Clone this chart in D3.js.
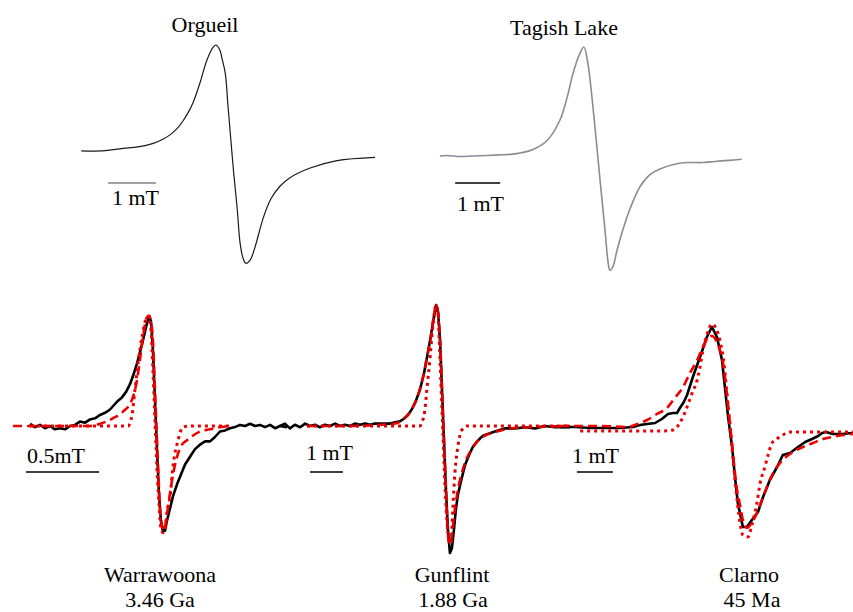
<!DOCTYPE html>
<html><head><meta charset="utf-8">
<script src="https://cdn.jsdelivr.net/npm/d3@7"></script>
<style>html,body{margin:0;padding:0;background:#fff;}svg{display:block;}</style>
</head><body>
<svg id="chart" width="853" height="612"></svg>
<script>
// ---- Data: field offset (mT) vs normalized derivative EPR amplitude ----
const orgueil = [[-3.10,0.01],[-2.71,0.01],[-2.29,0.03],[-1.88,0.05],[-1.60,0.08],[-1.40,0.12],[-1.25,0.16],[-1.10,0.22],[-0.98,0.29],[-0.87,0.37],[-0.77,0.46],[-0.63,0.64],[-0.48,0.86],[-0.35,0.98],[-0.29,1.00],[-0.21,0.95],[-0.17,0.88],[-0.10,0.74],[-0.04,0.42],[0.02,0.10],[0.08,-0.21],[0.15,-0.53],[0.21,-0.85],[0.27,-0.99],[0.33,-1.04],[0.42,-1.01],[0.52,-0.89],[0.69,-0.62],[0.85,-0.44],[1.04,-0.32],[1.25,-0.24],[1.67,-0.15],[2.23,-0.08],[3.02,-0.05]];

const tagishLake = [[-3.47,0.00],[-3.30,0.005],[-3.02,-0.005],[-2.75,0.00],[-2.42,0.005],[-2.15,0.01],[-1.91,0.015],[-1.65,0.03],[-1.40,0.06],[-1.09,0.14],[-0.80,0.33],[-0.64,0.54],[-0.51,0.76],[-0.36,0.94],[-0.27,1.00],[-0.18,0.85],[-0.09,0.54],[0.02,0.08],[0.09,-0.22],[0.20,-0.68],[0.27,-0.98],[0.31,-1.05],[0.38,-1.01],[0.47,-0.86],[0.58,-0.70],[0.76,-0.48],[0.98,-0.28],[1.20,-0.17],[1.42,-0.12],[1.70,-0.08],[2.02,-0.06],[2.35,-0.06],[2.64,-0.05],[2.95,-0.04],[3.24,-0.03]];

const warrawoonaMeasured = [[-0.863,0.02],[-0.829,-0.01],[-0.795,0.01],[-0.760,-0.02],[-0.726,0],[-0.692,-0.03],[-0.658,-0.02],[-0.623,-0.03],[-0.589,0],[-0.555,0.01],[-0.521,0.04],[-0.486,0.03],[-0.452,0.06],[-0.418,0.07],[-0.384,0.10],[-0.349,0.12],[-0.315,0.15],[-0.281,0.20],[-0.260,0.23],[-0.233,0.26],[-0.205,0.31],[-0.178,0.38],[-0.151,0.48],[-0.130,0.57],[-0.110,0.67],[-0.089,0.78],[-0.068,0.90],[-0.048,1.00],[-0.034,0.95],[-0.021,0.69],[-0.007,0.24],[0.007,-0.22],[0.021,-0.63],[0.034,-0.87],[0.048,-0.96],[0.062,-0.95],[0.075,-0.86],[0.096,-0.75],[0.116,-0.64],[0.144,-0.53],[0.171,-0.44],[0.199,-0.35],[0.233,-0.28],[0.267,-0.21],[0.301,-0.17],[0.336,-0.14],[0.370,-0.14],[0.404,-0.10],[0.438,-0.05],[0.473,-0.04],[0.507,-0.02],[0.541,-0.01],[0.575,0.01],[0.610,0],[0.644,0.02],[0.678,0],[0.712,0.01],[0.747,-0.01],[0.781,0.01],[0.815,-0.02],[0.849,0],[0.897,-0.01]];
const warrawoonaDashed = [[-0.979,0],[-0.658,0],[-0.452,0],[-0.384,0.02],[-0.295,0.07],[-0.226,0.13],[-0.164,0.24],[-0.130,0.42],[-0.110,0.60],[-0.089,0.81],[-0.062,0.99],[-0.048,1.00],[-0.034,0.95],[-0.021,0.78],[-0.007,0.33],[0.007,-0.13],[0.021,-0.58],[0.027,-0.74],[0.041,-0.90],[0.055,-0.95],[0.068,-0.87],[0.082,-0.74],[0.110,-0.49],[0.144,-0.28],[0.178,-0.17],[0.212,-0.13],[0.301,-0.05],[0.370,-0.03],[0.438,-0.01],[0.507,0]];
const warrawoonaDotted = [[-0.863,0],[-0.521,0],[-0.192,0],[-0.164,0.10],[-0.144,0.33],[-0.123,0.57],[-0.096,0.81],[-0.062,0.99],[-0.048,1.00],[-0.034,0.87],[-0.021,0.51],[-0.007,0.05],[0.007,-0.40],[0.021,-0.72],[0.034,-0.93],[0.048,-0.97],[0.062,-0.95],[0.075,-0.78],[0.096,-0.65],[0.116,-0.37],[0.151,-0.13],[0.185,-0.01],[0.233,0],[0.527,0]];

const gunflintMeasured = [[-4.97,0],[-4.82,0.02],[-4.67,-0.02],[-4.52,0.01],[-4.36,-0.01],[-4.21,0.02],[-4.06,0],[-3.91,0.01],[-3.76,-0.01],[-3.61,0.01],[-3.45,0],[-3.30,0.02],[-3.15,0],[-3.00,0.01],[-2.85,0],[-2.70,0.02],[-2.55,0.01],[-2.39,0.02],[-2.24,0.01],[-2.09,0.02],[-1.94,0.02],[-1.79,0.02],[-1.64,0.02],[-1.48,0.03],[-1.33,0.04],[-1.21,0.06],[-1.09,0.09],[-0.97,0.14],[-0.85,0.21],[-0.73,0.30],[-0.61,0.43],[-0.52,0.56],[-0.42,0.71],[-0.33,0.86],[-0.24,1.00],[-0.18,0.94],[-0.12,0.71],[-0.06,0.30],[0,-0.12],[0.06,-0.53],[0.12,-0.86],[0.18,-1.05],[0.24,-1.01],[0.30,-0.86],[0.36,-0.69],[0.42,-0.57],[0.52,-0.45],[0.64,-0.32],[0.76,-0.24],[0.88,-0.17],[1.03,-0.12],[1.18,-0.08],[1.39,-0.06],[1.61,-0.04],[1.85,-0.02],[2.15,-0.02],[2.45,-0.01],[2.76,-0.02],[3.06,0],[3.36,-0.01],[3.82,-0.01]];
const gunflintDashed = [[-4.15,0],[-2.85,0],[-1.94,0.01],[-1.48,0.02],[-1.18,0.07],[-0.97,0.14],[-0.79,0.25],[-0.64,0.40],[-0.52,0.56],[-0.39,0.75],[-0.30,0.92],[-0.24,1.00],[-0.18,0.94],[-0.12,0.71],[-0.06,0.30],[0,-0.12],[0.06,-0.53],[0.12,-0.90],[0.18,-0.98],[0.24,-0.90],[0.33,-0.69],[0.42,-0.53],[0.55,-0.38],[0.67,-0.28],[0.82,-0.20],[1.00,-0.13],[1.24,-0.08],[1.55,-0.05],[2.00,-0.02],[2.61,-0.01],[3.82,0]];
const gunflintDotted = [[-4.15,0],[-0.73,0],[-0.67,0.03],[-0.58,0.13],[-0.52,0.30],[-0.42,0.57],[-0.33,0.85],[-0.24,1.00],[-0.18,0.94],[-0.15,0.75],[-0.09,0.34],[-0.03,-0.07],[0.03,-0.49],[0.09,-0.78],[0.15,-0.94],[0.21,-0.97],[0.27,-0.67],[0.33,-0.39],[0.42,-0.17],[0.55,-0.03],[0.70,0],[3.82,0]];

const clarnoMeasured = [[-4.75,0],[-4.33,0],[-3.92,-0.01],[-3.50,-0.01],[-3.08,-0.01],[-2.72,0],[-2.53,0.02],[-2.33,0.03],[-2.11,0.04],[-1.92,0.08],[-1.75,0.13],[-1.61,0.14],[-1.50,0.14],[-1.42,0.19],[-1.31,0.25],[-1.22,0.32],[-1.06,0.50],[-0.86,0.70],[-0.67,0.90],[-0.53,1.00],[-0.39,0.90],[-0.25,0.67],[-0.17,0.40],[-0.08,0.10],[0.03,-0.20],[0.11,-0.50],[0.19,-0.76],[0.33,-1.00],[0.44,-1.00],[0.58,-0.93],[0.75,-0.85],[0.89,-0.70],[1.08,-0.53],[1.28,-0.40],[1.44,-0.28],[1.64,-0.26],[1.86,-0.20],[2.06,-0.15],[2.25,-0.12],[2.42,-0.09],[2.53,-0.06],[2.64,-0.05],[2.83,-0.07],[3.08,-0.07],[3.36,-0.06]];
const clarnoDashed = [[-4.75,0.01],[-3.64,0.01],[-2.89,0],[-2.53,0.04],[-2.33,0.07],[-2.06,0.13],[-1.78,0.19],[-1.56,0.29],[-1.33,0.40],[-1.14,0.54],[-0.94,0.67],[-0.78,0.80],[-0.64,0.89],[-0.53,0.91],[-0.42,0.87],[-0.31,0.77],[-0.19,0.57],[-0.11,0.32],[-0.03,0.04],[0.06,-0.28],[0.14,-0.56],[0.25,-0.78],[0.33,-0.93],[0.44,-1.01],[0.56,-0.97],[0.72,-0.86],[0.89,-0.70],[1.17,-0.46],[1.44,-0.33],[1.72,-0.25],[2.00,-0.20],[2.28,-0.16],[2.56,-0.12],[2.83,-0.10],[3.11,-0.08],[3.39,-0.07]];
const clarnoDotted = [[-4.19,-0.04],[-3.08,-0.04],[-1.97,-0.04],[-1.61,-0.03],[-1.50,0],[-1.42,0.04],[-1.31,0.12],[-1.22,0.20],[-1.08,0.34],[-0.94,0.47],[-0.86,0.60],[-0.78,0.77],[-0.67,0.92],[-0.53,1.03],[-0.42,0.99],[-0.31,0.87],[-0.19,0.62],[-0.11,0.32],[-0.03,0.02],[0.06,-0.33],[0.14,-0.63],[0.22,-0.88],[0.33,-1.08],[0.47,-1.10],[0.58,-0.98],[0.72,-0.76],[0.81,-0.56],[0.94,-0.40],[1.03,-0.28],[1.14,-0.16],[1.36,-0.10],[1.64,-0.05],[1.92,-0.05],[3.39,-0.05]];

const sampleNames = ["Orgueil", "Tagish Lake", "Warrawoona", "Gunflint", "Clarno"];
const sampleAges = ["", "", "3.46 Ga", "1.88 Ga", "45 Ma"];
const scaleBarLabels = ["1 mT", "1 mT", "0.5mT", "1 mT", "1 mT"];
const scaleBarLengths = [1, 1, 0.5, 1, 1]; // mT
const scaleBarStarts = [-2.54, -3.13, -0.89, -4.06, -4.28]; // mT

// ---- Layout (pixel placement of each spectrum panel) ----
const RED = "#ee0000";
const smooth = d3.curveCatmullRom.alpha(0.5);
const layout = [
  {cx:230, ppm:48,  base:152, amp:107, barY:183, barText:[112,205], name:[205,32], age:null},
  {cx:596, ppm:45,  base:156, amp:109, barY:183, barText:[457,211], name:[564,35], age:null},
  {cx:156, ppm:146, base:426, amp:110, barY:472, barText:[27,463],  name:[160,582], age:[160,607]},
  {cx:444, ppm:33,  base:426, amp:121, barY:472, barText:[306,460], name:[452,582], age:[453,607]},
  {cx:731, ppm:36,  base:427, amp:100, barY:472, barText:[572,463], name:[749,582], age:[752,607]}
];
const seriesByPanel = [
  [{data:orgueil, stroke:"#1a1a1a", width:1.2, dash:null, curve:smooth}],
  [{data:tagishLake, stroke:"#8d8b96", width:1.6, dash:null, curve:smooth}],
  [{data:warrawoonaMeasured, stroke:"#000", width:2.6, dash:null, curve:d3.curveLinear},
   {data:warrawoonaDashed, stroke:RED, width:2.6, dash:"9,5", curve:d3.curveMonotoneX},
   {data:warrawoonaDotted, stroke:RED, width:3, dash:"3,4", curve:d3.curveMonotoneX}],
  [{data:gunflintMeasured, stroke:"#000", width:2.6, dash:null, curve:d3.curveLinear},
   {data:gunflintDashed, stroke:"#dd0000", width:2.6, dash:"9,5", curve:d3.curveMonotoneX},
   {data:gunflintDotted, stroke:"#dd0000", width:3, dash:"3,4", curve:d3.curveMonotoneX}],
  [{data:clarnoMeasured, stroke:"#000", width:2.6, dash:null, curve:d3.curveLinear},
   {data:clarnoDashed, stroke:RED, width:2.6, dash:"9,5", curve:d3.curveMonotoneX},
   {data:clarnoDotted, stroke:RED, width:3, dash:"3,4", curve:d3.curveMonotoneX}]
];

const svg = d3.select("#chart");
const FONT = "'Liberation Serif','Times New Roman',serif";
const FS = 22;

layout.forEach((L, i) => {
  const x = d3.scaleLinear().domain([0, 1]).range([L.cx, L.cx + L.ppm]);
  const y = d3.scaleLinear().domain([0, 1]).range([L.base, L.base - L.amp]);
  const g = svg.append("g").attr("class", "panel-" + i);

  seriesByPanel[i].forEach(s => {
    const line = d3.line().x(d => x(d[0])).y(d => y(d[1])).curve(s.curve);
    g.append("path").datum(s.data)
      .attr("d", line)
      .attr("fill", "none")
      .attr("stroke", s.stroke)
      .attr("stroke-width", s.width)
      .attr("stroke-linejoin", "round")
      .attr("stroke-dasharray", s.dash);
  });

  // scale bar (length in mT through the panel's field scale)
  g.append("line")
    .attr("x1", x(scaleBarStarts[i]))
    .attr("x2", x(scaleBarStarts[i] + scaleBarLengths[i]))
    .attr("y1", L.barY).attr("y2", L.barY)
    .attr("stroke", i === 0 ? "#444" : "#000")
    .attr("stroke-width", i === 0 ? 1 : 1.6);
  g.append("text")
    .attr("x", L.barText[0]).attr("y", L.barText[1])
    .attr("font-family", FONT).attr("font-size", FS)
    .text(scaleBarLabels[i]);

  g.append("text")
    .attr("x", L.name[0]).attr("y", L.name[1])
    .attr("text-anchor", "middle")
    .attr("font-family", FONT).attr("font-size", FS)
    .text(sampleNames[i]);
  if (L.age) {
    g.append("text")
      .attr("x", L.age[0]).attr("y", L.age[1])
      .attr("text-anchor", "middle")
      .attr("font-family", FONT).attr("font-size", FS)
      .text(sampleAges[i]);
  }
});
</script>
</body></html>
